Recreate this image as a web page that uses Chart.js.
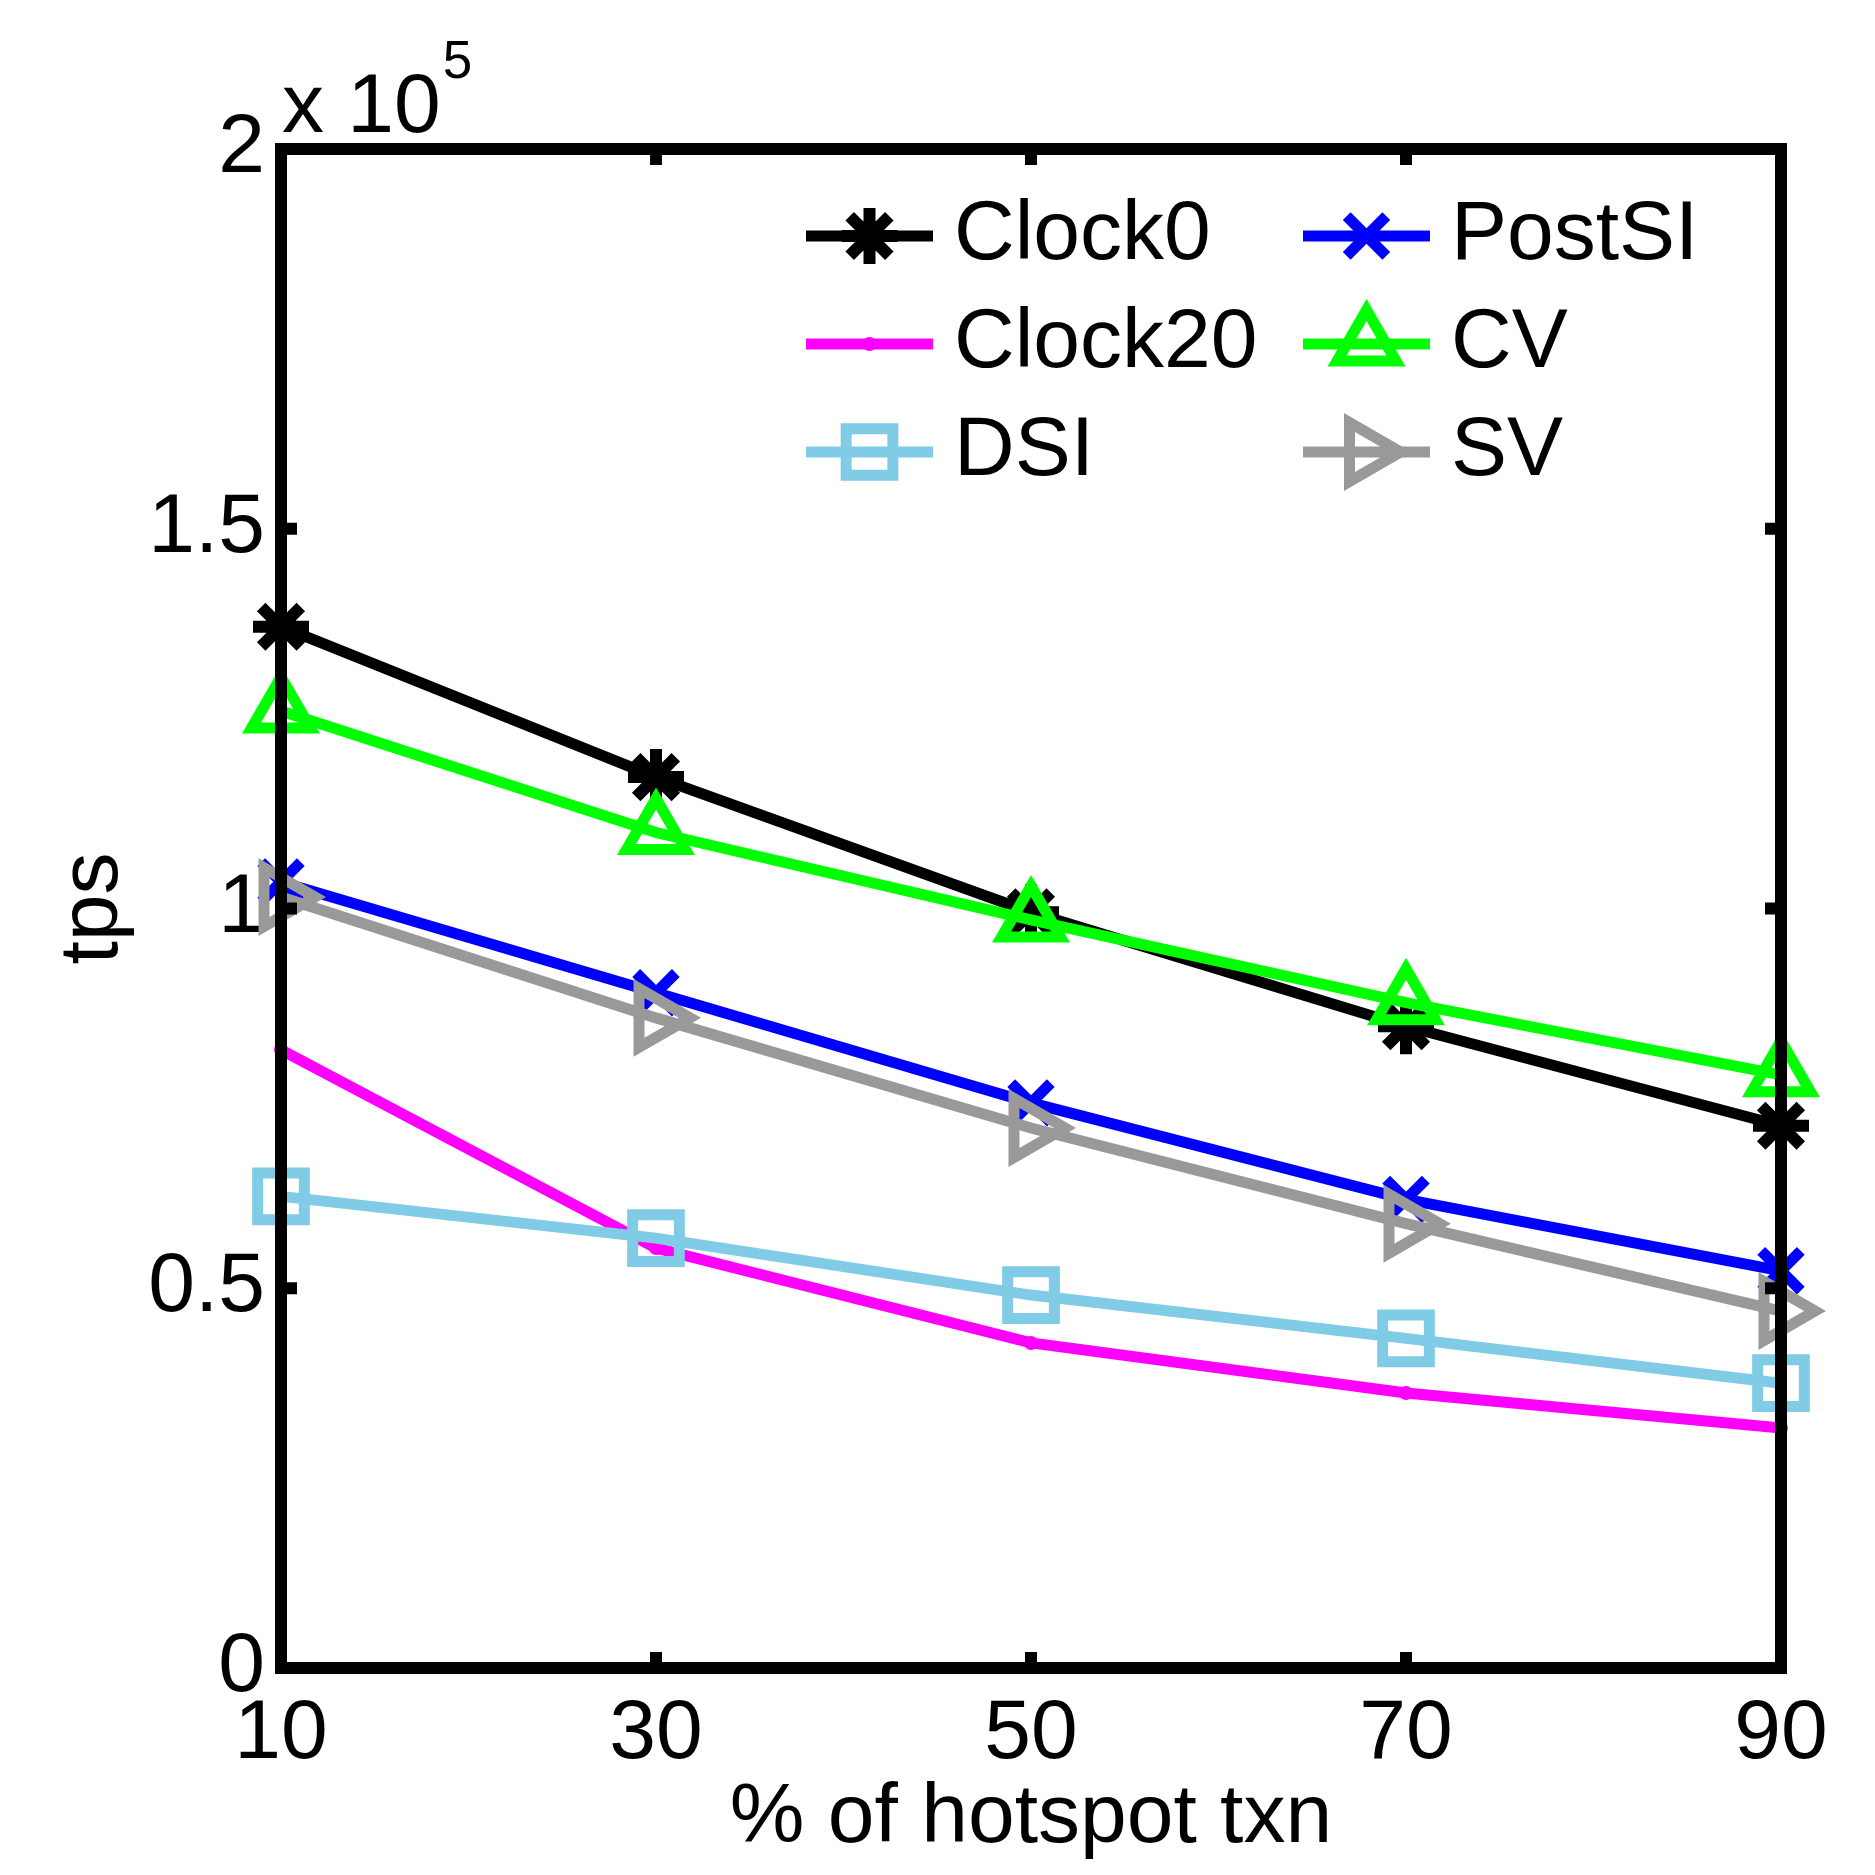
<!DOCTYPE html>
<html>
<head>
<meta charset="utf-8">
<title>tps vs % of hotspot txn</title>
<script src="https://cdn.jsdelivr.net/npm/chart.js@4.4.1/dist/chart.umd.min.js"></script>
<style>
  html, body { margin: 0; padding: 0; background: #fff; }
  canvas { display: block; }
</style>
</head>
<body>
<canvas id="tpsChart" width="1875" height="1875"></canvas>
<script>
// data (tps)
const xLabels = ['10', '30', '50', '70', '90'];
const clock0  = [137100, 117300, 99500, 84500, 71400];
const clock20 = [81400, 55300, 42800, 36200, 31600];
const dsi     = [62100, 56600, 49100, 43400, 37500];
const postSI  = [103500, 88900, 74400, 61700, 52300];
const cv      = [126000, 110000, 98500, 87600, 78100];
const sv      = [101500, 85600, 71100, 58500, 47000];
const yTicks  = [0, 50000, 100000, 150000, 200000]; // printed as 0..2, x 10^5

const FONT = '"Liberation Sans", Arial, Helvetica, sans-serif';
const LW = 11;

function series(label, data, color, style, radius, extra) {
  return Object.assign({
    label, data,
    borderColor: color,
    borderWidth: LW,
    pointStyle: style,
    pointRadius: radius,
    pointHoverRadius: radius,
    pointBorderColor: color,
    pointBorderWidth: LW,
    pointBackgroundColor: 'rgba(0,0,0,0)',
    pointRotation: 0,
    tension: 0,
    fill: false,
    clip: false
  }, extra || {});
}

// legend is column-major like the original: Clock0, Clock20, DSI | PostSI, CV, SV
const datasets = [
  series('Clock0', clock0, '#000000', 'star', 28, { pointBorderWidth: 12 }),
  series('Clock20', clock20, '#ff00ff', 'circle', 7, { pointBorderWidth: 0, pointBackgroundColor: '#ff00ff' }),
  series('DSI', dsi, '#80cce6', 'rect', 33),
  series('PostSI', postSI, '#0000ff', 'crossRot', 28),
  series('CV', cv, '#00ff00', 'triangle', 34),
  series('SV', sv, '#999999', 'triangle', 34, { pointRotation: 90 })
];
// later series are painted over earlier ones
datasets.forEach((d, i) => { d.order = datasets.length - 1 - i; });

// box, inward ticks and the exponent note, painted on top of the data
const matlabAxes = {
  id: 'matlabAxes',
  afterDatasetsDraw(chart) {
    const { ctx, chartArea: a, scales: { x, y } } = chart;
    ctx.save();
    ctx.strokeStyle = '#000';
    ctx.lineWidth = 12;
    ctx.lineCap = 'butt';
    ctx.beginPath();
    x.ticks.forEach((t, i) => {
      const px = x.getPixelForTick(i);
      ctx.moveTo(px, a.bottom); ctx.lineTo(px, a.bottom - 16);
      ctx.moveTo(px, a.top); ctx.lineTo(px, a.top + 16);
    });
    y.ticks.forEach((t, i) => {
      const py = y.getPixelForTick(i);
      ctx.moveTo(a.left, py); ctx.lineTo(a.left + 16, py);
      ctx.moveTo(a.right, py); ctx.lineTo(a.right - 16, py);
    });
    ctx.stroke();
    ctx.lineJoin = 'miter';
    ctx.strokeRect(a.left, a.top, a.right - a.left, a.bottom - a.top);

    ctx.fillStyle = '#000';
    ctx.textAlign = 'left';
    ctx.textBaseline = 'alphabetic';
    ctx.font = '84px ' + FONT;
    ctx.fillText('x 10', a.left + 1, a.top - 17);
    const w = ctx.measureText('x 10').width;
    ctx.font = '53px ' + FONT;
    ctx.fillText('5', a.left + 1 + w + 2, a.top - 71);
    ctx.restore();
  }
};

// two-column legend without a box
const lineLegend = {
  id: 'lineLegend',
  afterDraw(chart) {
    const { ctx } = chart;
    const rows = [236, 344, 452];
    const cols = [{ x1: 806, x2: 933, tx: 954 }, { x1: 1303, x2: 1430, tx: 1451 }];
    ctx.save();
    chart.data.datasets.forEach((ds, i) => {
      const c = cols[Math.floor(i / 3)];
      const yy = rows[i % 3];
      ctx.strokeStyle = ds.borderColor;
      ctx.lineWidth = ds.borderWidth;
      ctx.lineCap = 'butt';
      ctx.beginPath();
      ctx.moveTo(c.x1, yy);
      ctx.lineTo(c.x2, yy);
      ctx.stroke();

      ctx.strokeStyle = ds.pointBorderColor;
      ctx.fillStyle = ds.pointBackgroundColor;
      ctx.lineWidth = ds.pointBorderWidth;
      Chart.helpers.drawPoint(ctx, {
        pointStyle: ds.pointStyle,
        rotation: ds.pointRotation,
        radius: ds.pointRadius,
        borderWidth: ds.pointBorderWidth
      }, (c.x1 + c.x2) / 2, yy);

      ctx.fillStyle = '#000';
      ctx.font = '84px ' + FONT;
      ctx.textAlign = 'left';
      ctx.textBaseline = 'middle';
      ctx.fillText(ds.label, c.tx, yy);
    });
    ctx.restore();
  }
};

new Chart(document.getElementById('tpsChart').getContext('2d'), {
  type: 'line',
  data: { labels: xLabels, datasets },
  plugins: [matlabAxes, lineLegend],
  options: {
    responsive: false,
    devicePixelRatio: 1,
    animation: false,
    layout: { padding: { left: 0, right: 94, top: 149, bottom: 0 } },
    plugins: {
      legend: { display: false },
      tooltip: { enabled: false }
    },
    scales: {
      x: {
        type: 'category',
        offset: false,
        grid: { display: false, drawTicks: false },
        border: { display: false },
        ticks: {
          color: '#000',
          font: { family: FONT, size: 84 },
          padding: 16,
          maxRotation: 0,
          autoSkip: false
        },
        title: {
          display: true,
          text: '% of hotspot txn',
          color: '#000',
          font: { family: FONT, size: 84 },
          padding: { top: 0, bottom: 6 }
        },
        afterFit: (s) => { s.height = 207; }
      },
      y: {
        type: 'linear',
        min: 0,
        max: 200000,
        grid: { display: false, drawTicks: false },
        border: { display: false },
        afterBuildTicks: (s) => { s.ticks = yTicks.map(v => ({ value: v })); },
        ticks: {
          color: '#000',
          font: { family: FONT, size: 84 },
          padding: 16,
          callback: (v) => String(v / 1e5)
        },
        title: {
          display: true,
          text: 'tps',
          color: '#000',
          font: { family: FONT, size: 84 },
          padding: { top: 43, bottom: 0 }
        },
        afterFit: (s) => { s.width = 281; }
      }
    }
  }
});
</script>
</body>
</html>
